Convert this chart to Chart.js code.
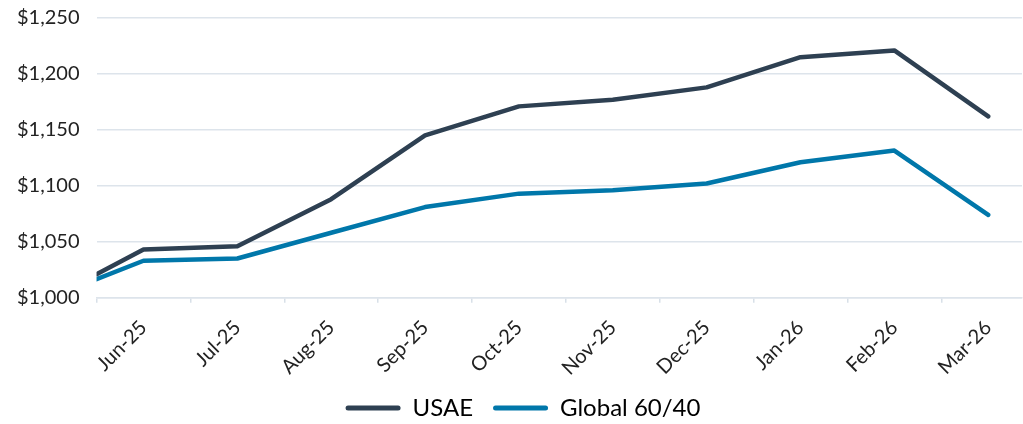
<!DOCTYPE html>
<html><head><meta charset="utf-8">
<script src="https://cdn.jsdelivr.net/npm/chart.js@4/dist/chart.umd.min.js"></script>
<style>html,body{margin:0;padding:0;background:#fff}#wrap{width:1023px;height:424px}</style>
</head><body><div id="wrap"><canvas id="c"></canvas></div>
<script>
const monthLabels = ["Jun-25","Jul-25","Aug-25","Sep-25","Oct-25","Nov-25","Dec-25","Jan-26","Feb-26","Mar-26"];
// x positions: inception at 0, month points centred between month boundaries
const periods = [0, 0.5, 1.5, 2.5, 3.5, 4.5, 5.5, 6.5, 7.5, 8.5, 9.5];
const boundaries = [0, 1, 2, 3, 4, 5, 6, 7, 8, 9];
const usae = [1021, 1043, 1046, 1088, 1145, 1171, 1177, 1188, 1215, 1221, 1162];
const global6040 = [1016.5, 1033, 1035, 1058, 1081, 1093, 1096, 1102, 1121, 1131.5, 1074];
const yTicks = [1000, 1050, 1100, 1150, 1200, 1250];

const font = "Lato, 'Noto Sans', sans-serif";
const mk = (xs, ys) => xs.map((x, i) => ({x, y: ys[i]}));

// compact the legend box vertically and nudge it, keeping the wider item gap
const legendTweak = {
  id: 'legendTweak',
  beforeUpdate(chart) {
    const lg = chart.legend;
    if (!lg || lg._tweaked) return;
    lg._tweaked = true;
    const fit = lg.fit;
    lg.fit = function () { fit.call(this); this.height = 31; };
    const draw = lg.draw;
    lg.draw = function (area) {
      const t = this.top, l = this.left, r = this.right;
      this.top -= 17; this.left += 12; this.right += 12;
      draw.call(this, area);
      this.top = t; this.left = l; this.right = r;
    };
  }
};

new Chart(document.getElementById('c'), {
  type: 'line',
  data: {
    datasets: [
      {label: 'USAE', data: mk(periods, usae), borderColor: '#2e4052', backgroundColor: '#2e4052', borderWidth: 4.5, pointRadius: 0, tension: 0, borderCapStyle: 'round', borderJoinStyle: 'round'},
      {label: 'Global 60/40', data: mk(periods, global6040), borderColor: '#0077aa', backgroundColor: '#0077aa', borderWidth: 4.5, pointRadius: 0, tension: 0, borderCapStyle: 'round', borderJoinStyle: 'round'}
    ]
  },
  plugins: [legendTweak],
  options: {
    responsive: true, maintainAspectRatio: false, animation: false,
    layout: {padding: {top: 18, right: 1, left: 0, bottom: 0}},
    plugins: {
      tooltip: {enabled: false},
      legend: {
        position: 'bottom',
        labels: {
          font: {family: font, size: 24}, color: '#222',
          boxWidth: 55, boxHeight: 5, padding: 20,
          generateLabels: (chart) => chart.data.datasets.map((d, i) => ({
            text: d.label, fillStyle: d.borderColor, strokeStyle: d.borderColor, lineWidth: 0,
            borderRadius: 2.5, datasetIndex: i, hidden: false
          }))
        }
      }
    },
    scales: {
      x: {
        type: 'linear', min: 0, max: 9.86,
        afterBuildTicks: (s) => { s.ticks = boundaries.concat(periods.slice(1)).sort((a,b)=>a-b).map(v => ({value: v})); },
        grid: {drawOnChartArea: false, drawTicks: true, tickLength: 5,
          tickColor: (ctx) => (ctx.tick && Number.isInteger(ctx.tick.value)) ? '#d8e0e8' : 'rgba(0,0,0,0)', lineWidth: 1.5},
        border: {color: '#dde4eb', width: 1.5},
        ticks: {
          autoSkip: false, minRotation: 45, maxRotation: 45, padding: 13,
          font: {family: font, size: 20}, color: '#222',
          callback: (v) => { const i = periods.indexOf(v); return i > 0 ? monthLabels[i - 1] : ''; }
        }
      },
      y: {
        min: 1000, max: 1250,
        afterBuildTicks: (s) => { s.ticks = yTicks.map(v => ({value: v})); },
        afterFit: (s) => { s.paddingTop = 0; s.paddingBottom = 0; },
        grid: {color: '#dde4eb', lineWidth: 1.5, drawTicks: false},
        border: {display: false},
        ticks: {padding: 17, font: {family: font, size: 20}, color: '#222',
          callback: (v) => '$' + v.toLocaleString('en-US')}
      }
    }
  }
});
</script></body></html>
